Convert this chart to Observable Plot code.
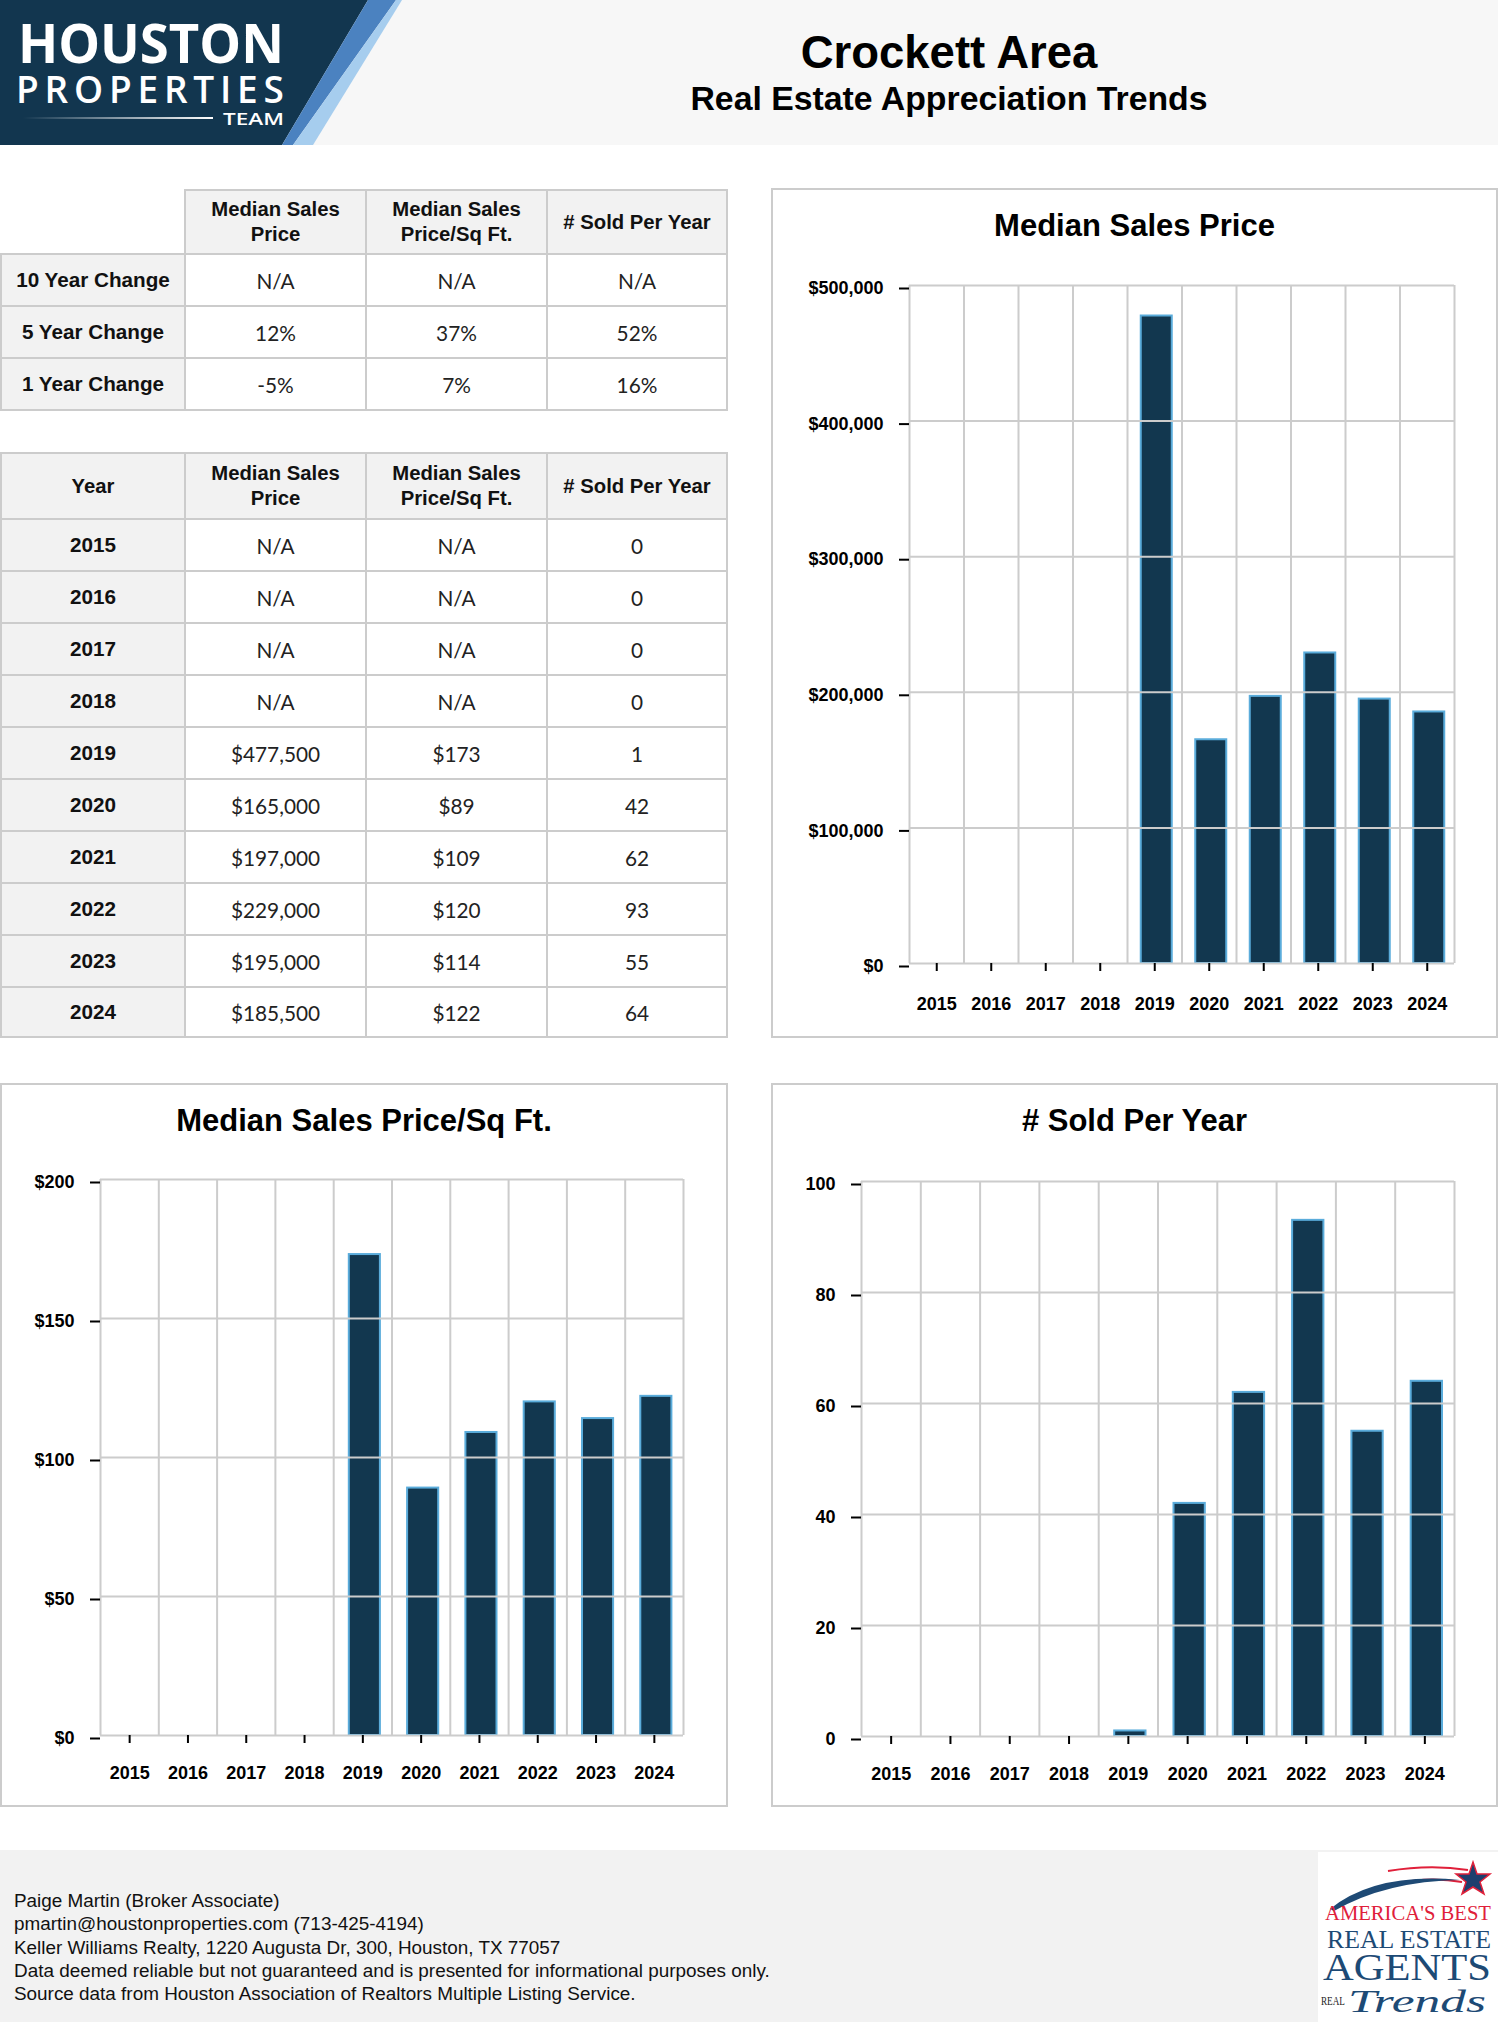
<!DOCTYPE html>
<html><head><meta charset="utf-8">
<script src="https://cdn.jsdelivr.net/npm/d3@7"></script>
<script src="https://cdn.jsdelivr.net/npm/@observablehq/plot@0.6"></script>
<style>
body{margin:0;background:#fff;}
#page{position:relative;width:1498px;height:2022px;overflow:hidden;font-family:"Liberation Sans",Arial,sans-serif;color:#000;}
.cell{position:absolute;box-sizing:border-box;border:2px solid #cccccc;display:flex;align-items:center;justify-content:center;text-align:center;}
.hd{background:#f2f2f2;font-weight:bold;font-size:20.3px;line-height:25px;color:#111;}
.lab{background:#f2f2f2;font-weight:bold;font-size:20.7px;color:#111;}
.val{background:#fff;font-family:Lato,"Liberation Sans",sans-serif;font-size:20.8px;color:#222;}
.panel{position:absolute;box-sizing:border-box;border:2px solid #cccccc;background:#fff;}
.ctitle{position:absolute;text-align:center;font-weight:bold;font-size:31px;line-height:36px;width:700px;}
</style></head>
<body><div id="page"></div>
<script>
// ---------- data ----------
const years = [2015, 2016, 2017, 2018, 2019, 2020, 2021, 2022, 2023, 2024];
const medianPrice = [null, null, null, null, 477500, 165000, 197000, 229000, 195000, 185500];
const pricePerSqft = [null, null, null, null, 173, 89, 109, 120, 114, 122];
const soldPerYear = [0, 0, 0, 0, 1, 42, 62, 93, 55, 64];
const priceTicks = [0, 100000, 200000, 300000, 400000, 500000];
const sqftTicks = [0, 50, 100, 150, 200];
const soldTicks = [0, 20, 40, 60, 80, 100];
const columnHeaders = ["Median Sales<br>Price", "Median Sales<br>Price/Sq Ft.", "# Sold Per Year"];
const changeLabels = ["10 Year Change", "5 Year Change", "1 Year Change"];
const changePrice = ["N/A", "12%", "-5%"];
const changeSqft = ["N/A", "37%", "7%"];
const changeSold = ["N/A", "52%", "16%"];
const chartTitles = ["Median Sales Price", "Median Sales Price/Sq Ft.", "# Sold Per Year"];
const footerLines = [
  "Paige Martin (Broker Associate)",
  "pmartin@houstonproperties.com (713-425-4194)",
  "Keller Williams Realty, 1220 Augusta Dr, 300, Houston, TX 77057",
  "Data deemed reliable but not guaranteed and is presented for informational purposes only.",
  "Source data from Houston Association of Realtors Multiple Listing Service."
];

const page = document.getElementById("page");
function add(html) { page.insertAdjacentHTML("beforeend", html); }

// ---------- header ----------
add(`<div style="position:absolute;left:0;top:0;width:1498px;height:145px;background:#f7f7f7"></div>`);
add(`<svg style="position:absolute;left:0;top:0" width="410" height="145">
  <defs><linearGradient id="lg" x1="0" x2="1"><stop offset="0" stop-color="#fff" stop-opacity="0"/><stop offset="1" stop-color="#fff"/></linearGradient></defs>
  <polygon points="0,0 368,0 282,145 0,145" fill="#12364f"/>
  <polygon points="368,0 396,0 293,145 282,145" fill="#4b82c0"/>
  <polygon points="396,0 402,0 313,145 293,145" fill="#a6cdee"/>
  <text class="fit" data-w="266" x="18" y="63" font-family="Open Sans" font-weight="700" font-size="54" fill="#fff">HOUSTON</text>
  <text x="16" y="103" font-family="Open Sans" font-weight="600" font-size="37" fill="#fff" letter-spacing="5.8">PROPERTIES</text>
  <rect x="23" y="117" width="190" height="2" fill="url(#lg)"/>
  <text class="fit" data-w="61" x="223" y="125" font-family="Open Sans" font-weight="600" font-size="17" fill="#fff">TEAM</text>
</svg>`);
add(`<div style="position:absolute;left:599px;top:30px;width:700px;text-align:center;font-weight:bold;font-size:45.5px;line-height:45px">Crockett Area</div>`);
add(`<div style="position:absolute;left:549px;top:81px;width:800px;text-align:center;font-weight:bold;font-size:33.8px;line-height:34px">Real Estate Appreciation Trends</div>`);

// ---------- tables ----------
function cell(x0, x1, y0, y1, content, kind) {
  add(`<div class="cell ${kind}" style="left:${x0}px;top:${y0}px;width:${x1 - x0 + 2}px;height:${y1 - y0 + 2}px">${content}</div>`);
}
const colX = [0, 184, 365, 546, 726];
// table 1
const t1Y = [189, 253, 305, 357, 409];
columnHeaders.forEach((h, j) => cell(colX[j + 1], colX[j + 2], t1Y[0], t1Y[1], h, "hd"));
changeLabels.forEach((lab, i) => {
  cell(colX[0], colX[1], t1Y[i + 1], t1Y[i + 2], lab, "lab");
  [changePrice, changeSqft, changeSold].forEach((col, j) =>
    cell(colX[j + 1], colX[j + 2], t1Y[i + 1], t1Y[i + 2], col[i], "val"));
});
// table 2
const t2Y = [452, 518, 570, 622, 674, 726, 778, 830, 882, 934, 986, 1036];
cell(colX[0], colX[1], t2Y[0], t2Y[1], "Year", "hd");
columnHeaders.forEach((h, j) => cell(colX[j + 1], colX[j + 2], t2Y[0], t2Y[1], h, "hd"));
const fmtComma = d3.format(",");
years.forEach((yr, i) => {
  const cols = [
    medianPrice[i] == null ? "N/A" : "$" + fmtComma(medianPrice[i]),
    pricePerSqft[i] == null ? "N/A" : "$" + pricePerSqft[i],
    String(soldPerYear[i])
  ];
  cell(colX[0], colX[1], t2Y[i + 1], t2Y[i + 2], String(yr), "lab");
  cols.forEach((c, j) => cell(colX[j + 1], colX[j + 2], t2Y[i + 1], t2Y[i + 2], c, "val"));
});

// ---------- charts ----------
function barChart(cfg) {
  const {values, ticks, fmt, left, top, width, height, mt, mr, mb, ml, tp, inset, title} = cfg;
  add(`<div class="panel" style="left:${left}px;top:${top}px;width:${width}px;height:${height}px"></div>`);
  add(`<div class="ctitle" style="left:${left + width / 2 - 350}px;top:${top + 20}px">${title}</div>`);
  const data = years.map((year, i) => ({year, value: values[i]})).filter(d => d.value != null && d.value > 0);
  const edges = years.map(y => y - 0.5).concat([years[years.length - 1] + 0.5]);
  const chart = Plot.plot({
    width, height,
    marginTop: mt, marginRight: mr, marginBottom: mb, marginLeft: ml,
    style: {fontFamily: '"Liberation Sans", Arial, sans-serif', color: "#000", background: "transparent", overflow: "visible"},
    x: {type: "linear", domain: [edges[0], edges[edges.length - 1]]},
    y: {type: "linear", domain: [0, ticks[ticks.length - 1]]},
    marks: [
      Plot.ruleX(edges, {stroke: "#cccccc", strokeWidth: 2}),
      Plot.rect(data, {x1: d => d.year - 0.5, x2: d => d.year + 0.5, y1: 0, y2: "value",
        insetLeft: inset + 2, insetRight: inset - 2, fill: "#12374f", stroke: "#5aacdb", strokeWidth: 2}),
      Plot.ruleY(ticks, {stroke: "#cccccc", strokeWidth: 2}),
      Plot.axisY({ticks, tickFormat: fmt, tickSize: 10, tickPadding: 16, fontSize: 18, fontWeight: "bold",
        label: null, strokeWidth: 2, dy: 3}),
      Plot.axisX({ticks: years, tickFormat: d => String(d), tickSize: 8, tickPadding: tp, fontSize: 18,
        fontWeight: "bold", label: null, strokeWidth: 2})
    ]
  });
  chart.style.position = "absolute";
  chart.style.left = left + "px";
  chart.style.top = top + "px";
  page.appendChild(chart);
}
barChart({values: medianPrice, ticks: priceTicks, fmt: d => "$" + fmtComma(d), title: chartTitles[0],
  left: 771, top: 188, width: 727, height: 850, mt: 97, mr: 44, mb: 75, ml: 138, tp: 26, inset: 11.75});
barChart({values: pricePerSqft, ticks: sqftTicks, fmt: d => "$" + d, title: chartTitles[1],
  left: 0, top: 1083, width: 728, height: 724, mt: 96, mr: 45, mb: 72, ml: 100, tp: 23, inset: 13.6});
barChart({values: soldPerYear, ticks: soldTicks, fmt: d => String(d), title: chartTitles[2],
  left: 771, top: 1083, width: 727, height: 724, mt: 98, mr: 44, mb: 71, ml: 90, tp: 23, inset: 14});

// ---------- footer ----------
add(`<div style="position:absolute;left:0;top:1850px;width:1498px;height:172px;background:#f2f2f2"></div>`);
add(`<div style="position:absolute;left:14px;top:1889px;font-size:18.9px;line-height:23.3px;color:#111">${footerLines.join("<br>")}</div>`);
add(`<svg style="position:absolute;left:1318px;top:1852px" width="180" height="170">
  <rect width="180" height="170" fill="#fff"/>
  <path d="M70,19 Q112,12 150,18" stroke="#e0203a" stroke-width="2" fill="none"/>
  <path d="M75,32 Q112,24 144,30" stroke="#e0203a" stroke-width="2" fill="none"/>
  <path d="M12,57 Q58,20 142,28 Q68,29 16,59 Z" fill="#1e4a75"/>
  <polygon points="155,10 159,22 172,22 162,30 166,42 155,35 144,42 148,30 138,22 151,22" fill="#1e3f6e" stroke="#e0203a" stroke-width="1.5"/>
  <text class="fit" data-w="166" x="7" y="68" font-family="Liberation Serif" font-size="22" fill="#e0203a">AMERICA'S BEST</text>
  <text class="fit" data-w="164" x="9" y="96" font-family="Liberation Serif" font-size="26" fill="#1d4a75">REAL ESTATE</text>
  <text class="fit" data-w="168" x="5" y="128" font-family="Liberation Serif" font-size="38" fill="#1d4a75">AGENTS</text>
  <text class="fit" data-w="24" x="3" y="153" font-family="Liberation Serif" font-size="12" fill="#222">REAL</text>
  <text class="fit" data-w="138" x="30" y="160" font-family="Liberation Serif" font-style="italic" font-size="32" fill="#1d4a75">Trends</text>
</svg>`);

// fit decorative logo texts to their measured widths by scaling horizontally
document.querySelectorAll("text.fit").forEach(t => {
  const target = +t.getAttribute("data-w");
  const w = t.getComputedTextLength();
  const x = +t.getAttribute("x"), y = +t.getAttribute("y");
  if (w > 0) t.setAttribute("transform", `translate(${x},${y}) scale(${target / w},1) translate(${-x},${-y})`);
});
</script>
</body></html>
